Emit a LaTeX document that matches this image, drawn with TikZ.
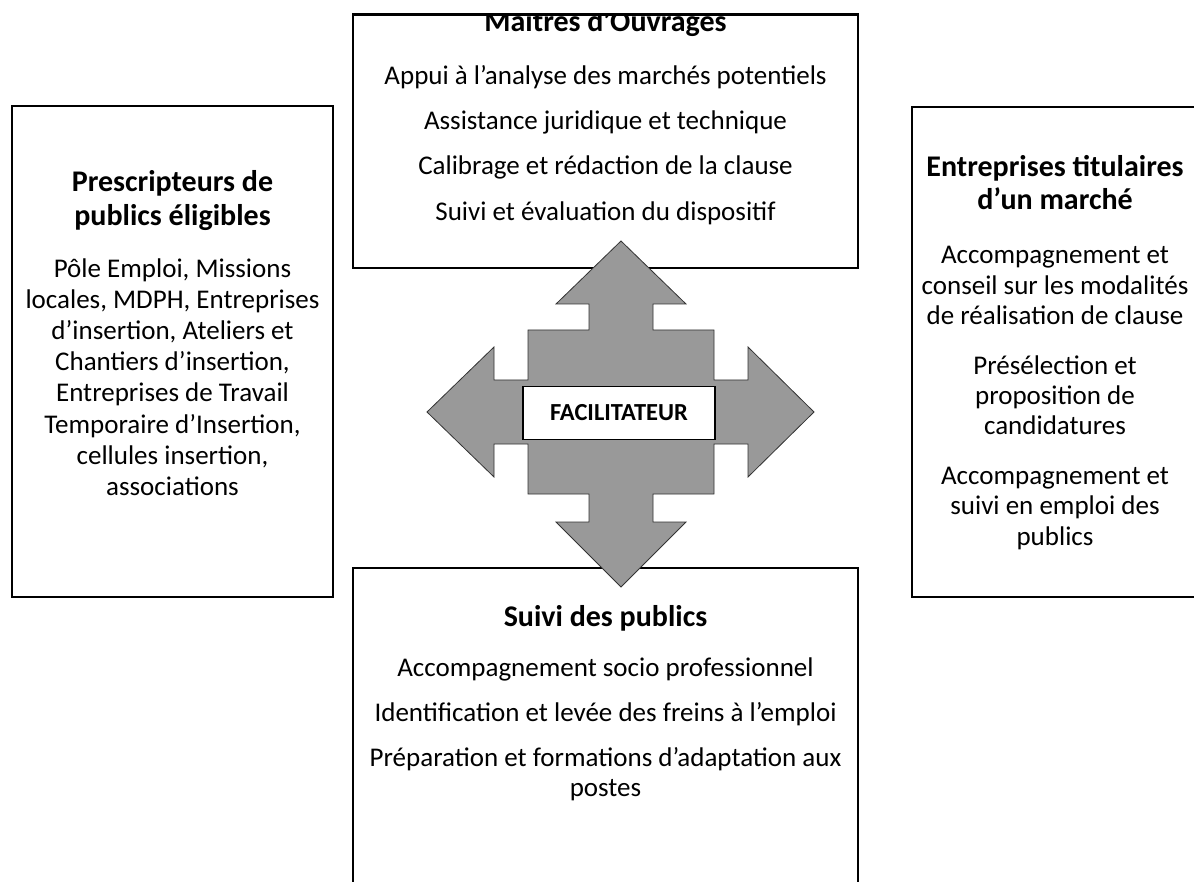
\documentclass[tikz,border=0pt]{standalone}
\usepackage{fontspec}
\setmainfont{Carlito}
\begin{document}
\begin{tikzpicture}[x=1pt,y=-1pt,
  panel/.style={draw=black, line width=1.6pt, fill=white, inner sep=0pt},
  body/.style={anchor=base, inner sep=0pt, font=\fontsize{27}{32}\selectfont},
  head/.style={anchor=base, inner sep=0pt, font=\fontsize{30}{35}\selectfont\bfseries},
  hub/.style={draw=black!80, line width=0.8pt, fill=black!40},
  core/.style={draw=black, line width=1.4pt, fill=white, inner sep=0pt,
    minimum width=192pt, minimum height=53pt, font=\fontsize{24.5}{28}\selectfont\bfseries}]
\useasboundingbox (0,0) rectangle (1194,882);

% four surrounding panels
\node[panel, minimum width=505pt, minimum height=253pt] (mo) at (605.5,141.5) {};
\node[panel, minimum width=321pt, minimum height=491pt] (pr) at (172.5,351.5) {};
\node[panel, minimum width=288pt, minimum height=490pt] (en) at (1056,352) {};
\node[panel, minimum width=505pt, minimum height=330pt] (sp) at (605.5,733) {};

% Maitres d'Ouvrages (title runs into the frame)
\begin{scope}
  \clip (mo.north west) rectangle (mo.south east);
  \node[head] (moT) at (605.5,32) {Maitres d’Ouvrages};
\end{scope}
\draw[line width=1.6pt] (mo.north west) -- (mo.north east);
\node[body] (mo1) at (605.5,85) {Appui à l’analyse des marchés potentiels};
\node[body] (mo2) at (605.5,130) {Assistance juridique et technique};
\node[body] (mo3) at (605.5,175) {Calibrage et rédaction de la clause};
\node[body] (mo4) at (605.5,221) {Suivi et évaluation du dispositif};

% Prescripteurs
\node[head] (prT1) at (172.5,192) {Prescripteurs de};
\node[head] (prT2) at (172.5,226) {publics éligibles};
\node[body] (pr1) at (172.5,278) {Pôle Emploi, Missions};
\node[body] (pr2) at (172.5,309) {locales, MDPH, Entreprises};
\node[body] (pr3) at (172.5,340) {d’insertion, Ateliers et};
\node[body] (pr4) at (172.5,371) {Chantiers d’insertion,};
\node[body] (pr5) at (172.5,402) {Entreprises de Travail};
\node[body] (pr6) at (172.5,433) {Temporaire d’Insertion,};
\node[body] (pr7) at (172.5,464) {cellules insertion,};
\node[body] (pr8) at (172.5,495) {associations};

% Entreprises titulaires
\node[head] (enT1) at (1055,177) {Entreprises titulaires};
\node[head] (enT2) at (1055,210) {d’un marché};
\node[body] (en1) at (1055,264) {Accompagnement et};
\node[body] (en2) at (1055,295) {conseil sur les modalités};
\node[body] (en3) at (1055,325) {de réalisation de clause};
\node[body] (en4) at (1055,374) {Présélection et};
\node[body] (en5) at (1055,405) {proposition de};
\node[body] (en6) at (1055,435) {candidatures};
\node[body] (en7) at (1055,484) {Accompagnement et};
\node[body] (en8) at (1055,514) {suivi en emploi des};
\node[body] (en9) at (1055,545) {publics};

% Suivi des publics
\node[head] (spT) at (605.5,626) {Suivi des publics};
\node[body] (sp1) at (605.5,676) {Accompagnement socio professionnel};
\node[body] (sp2) at (605.5,721) {Identification et levée des freins à l’emploi};
\node[body] (sp3) at (605.5,766) {Préparation et formations d’adaptation aux};
\node[body] (sp4) at (605.5,796) {postes};

% four-way arrow around the facilitator
\coordinate (c) at (621,412);
\begin{scope}[shift={(c)}]
  \draw[hub] (0,-171) -- (65,-108) -- (32,-108) -- (32,-82) -- (93,-82) -- (93,-32)
    -- (127,-32) -- (127,-65) -- (193,0) -- (127,65) -- (127,32) -- (93,32)
    -- (93,82) -- (32,82) -- (32,110) -- (65,110) -- (0,175) -- (-65,110)
    -- (-32,110) -- (-32,82) -- (-93,82) -- (-93,32) -- (-127,32) -- (-127,65)
    -- (-194,0) -- (-127,-65) -- (-127,-32) -- (-93,-32) -- (-93,-82)
    -- (-32,-82) -- (-32,-108) -- (-65,-108) -- cycle;
\end{scope}
\node[core] (fac) at (619,413) {FACILITATEUR};
\end{tikzpicture}
\end{document}
